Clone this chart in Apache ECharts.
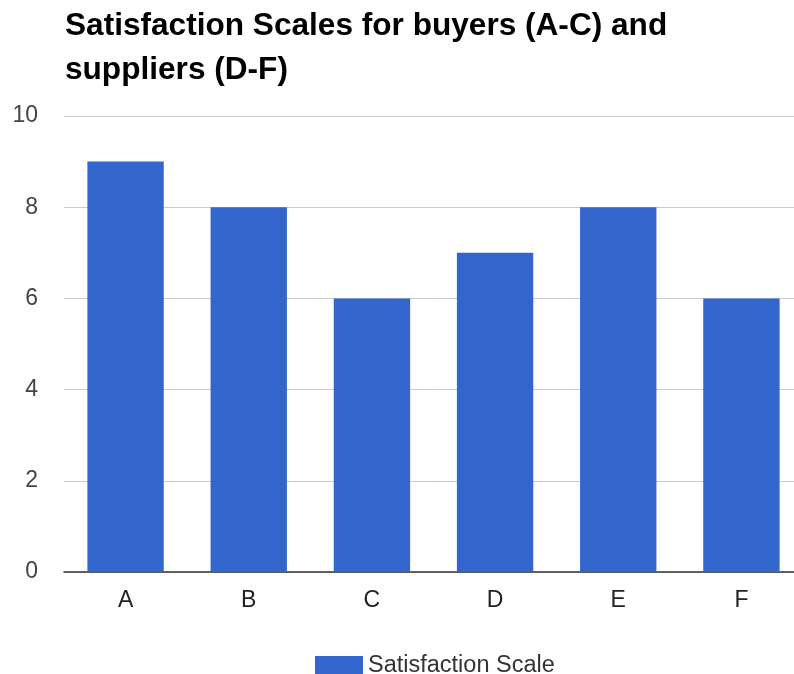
<!DOCTYPE html>
<html>
<head>
<meta charset="utf-8">
<script src="https://cdn.jsdelivr.net/npm/echarts@6/dist/echarts.min.js"></script>
<style>
  html, body { margin: 0; padding: 0; background: #fff; overflow: hidden; }
  #chart { width: 812px; height: 674px; }
</style>
</head>
<body>
<div id="chart"></div>
<script>
var categories = ['A', 'B', 'C', 'D', 'E', 'F'];
var scores = [9, 8, 6, 7, 8, 6];
var seriesName = 'Satisfaction Scale';
var yTicks = [0, 2, 4, 6, 8, 10];

var chart = echarts.init(document.getElementById('chart'));
var option = {
    animation: false,
    textStyle: { fontFamily: 'Liberation Sans, Arial, sans-serif' },
    title: {
        text: 'Satisfaction Scales for buyers (A-C) and\nsuppliers (D-F)',
        left: 60,
        top: -1,
        textStyle: {
            fontSize: 31.6,
            fontWeight: 'bold',
            color: '#000',
            lineHeight: 44,
            fontFamily: 'Liberation Sans, Arial, sans-serif'
        }
    },
    legend: {
        data: [seriesName],
        left: 310,
        top: 649,
        icon: 'rect',
        itemWidth: 48,
        itemHeight: 20,
        itemGap: 10,
        textStyle: { fontSize: 23.5, color: '#333' }
    },
    grid: {
        left: 64,
        top: 116,
        width: 739,
        height: 456,
        containLabel: false
    },
    xAxis: {
        type: 'category',
        data: categories,
        axisLine: { lineStyle: { color: '#333', width: 1.5 } },
        axisTick: { show: false },
        axisLabel: { fontSize: 23, color: '#222', margin: 17 }
    },
    yAxis: {
        type: 'value',
        min: yTicks[0],
        max: yTicks[yTicks.length - 1],
        interval: 2,
        axisLine: { show: false },
        axisTick: { show: false },
        axisLabel: { fontSize: 23, color: '#444', margin: 26 },
        splitLine: { lineStyle: { color: '#ccc', width: 1 } }
    },
    series: [{
        name: seriesName,
        type: 'bar',
        data: scores,
        barCategoryGap: '38%',
        itemStyle: { color: '#3366cc' }
    }]
};
chart.setOption(option);
</script>
</body>
</html>
